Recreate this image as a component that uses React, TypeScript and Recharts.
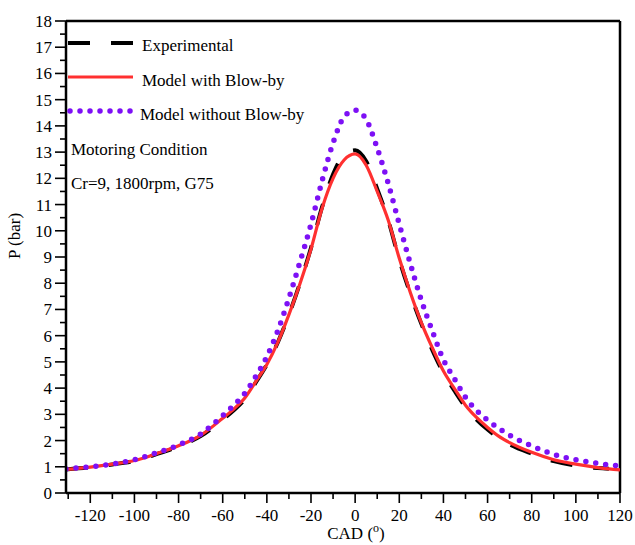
import React from 'react';
import { LineChart, Line, XAxis, YAxis, ReferenceLine } from 'recharts';

const cad = [-131, -120, -110, -100, -90, -80, -70, -60, -55, -50, -45, -40, -35, -30, -25, -20, -15, -10, -5, 0, 5, 10, 15, 20, 25, 30, 35, 40, 45, 50, 55, 60, 65, 70, 80, 90, 100, 110, 115, 120];
const experimental = [0.9, 0.98, 1.09, 1.22, 1.48, 1.78, 2.17, 2.8, 3.15, 3.58, 4.22, 4.9, 5.75, 6.8, 8.0, 9.35, 10.9, 12.15, 12.9, 13.07, 12.65, 11.6, 10.4, 8.9, 7.6, 6.45, 5.45, 4.58, 3.9, 3.28, 2.8, 2.42, 2.1, 1.85, 1.5, 1.22, 1.05, 0.95, 0.92, null];
const withBlowBy = [0.9, 0.99, 1.1, 1.24, 1.5, 1.8, 2.2, 2.85, 3.2, 3.62, 4.25, 4.9, 5.75, 6.8, 7.98, 9.3, 10.85, 12.0, 12.7, 12.93, 12.5, 11.5, 10.4, 8.95, 7.65, 6.5, 5.53, 4.65, 3.98, 3.35, 2.88, 2.5, 2.17, 1.92, 1.55, 1.27, 1.1, 0.97, 0.92, 0.88];
const withoutBlowBy = [0.92, 1.0, 1.1, 1.27, 1.53, 1.83, 2.25, 2.95, 3.35, 3.8, 4.45, 5.2, 6.2, 7.43, 8.81, 10.25, 11.9, 13.35, 14.35, 14.6, 14.25, 13.15, 11.8, 10.25, 8.75, 7.35, 6.17, 5.08, 4.35, 3.65, 3.15, 2.78, 2.47, 2.2, 1.8, 1.47, 1.27, 1.13, 1.07, 1.03];

const xTicks = [-130, -120, -110, -100, -90, -80, -70, -60, -50, -40, -30, -20, -10, 0, 10, 20, 30, 40, 50, 60, 70, 80, 90, 100, 110, 120];
const yTicks = Array.from({ length: 37 }, (_, i) => i / 2);
const xDomain = [-131, 120];
const yDomain = [0, 18];

const seriesNames = ['Experimental', 'Model with Blow-by', 'Model without Blow-by'];
const noteLines = ['Motoring Condition', 'Cr=9, 1800rpm, G75'];

const data = cad.map((x, i) => ({
  cad: x,
  exp: experimental[i],
  wb: withBlowBy[i],
  wob: withoutBlowBy[i],
}));

const FONT = '"Liberation Serif", "Times New Roman", serif';
const PURPLE = '#7d10f5';
const RED = '#ff3030';
const FS = 17;

const XTick = (props: any) => {
  const { x, y, payload } = props;
  const v = payload.value;
  const major = v % 20 === 0;
  return (
    <g>
      <line x1={x} x2={x} y1={y} y2={y + (major ? 10 : 6)} stroke="#000" strokeWidth={1.6} />
      {major && (
        <text x={x} y={y + 28} textAnchor="middle" fontSize={FS} fontFamily={FONT} fill="#000">
          {v}
        </text>
      )}
    </g>
  );
};

const YTick = (props: any) => {
  const { x, y, payload } = props;
  const v = payload.value;
  const major = Number.isInteger(v);
  return (
    <g>
      <line x1={x} x2={x - (major ? 11 : 6)} y1={y} y2={y} stroke="#000" strokeWidth={1.6} />
      {major && (
        <text x={x - 14} y={y + 6} textAnchor="end" fontSize={FS} fontFamily={FONT} fill="#000">
          {v}
        </text>
      )}
    </g>
  );
};

export default function App() {
  return (
    <div style={{ position: 'absolute', left: 0, top: 0, width: 635, height: 545, background: '#fff' }}>
      <LineChart width={635} height={545} data={data} margin={{ top: 21, right: 15, bottom: 0, left: 0 }}>
        <XAxis
          dataKey="cad"
          type="number"
          domain={xDomain}
          allowDataOverflow
          ticks={xTicks}
          interval={0}
          tickSize={0}
          tickMargin={0}
          tickLine={false}
          tick={<XTick />}
          height={52}
          axisLine={{ stroke: '#000', strokeWidth: 2.5 }}
        />
        <YAxis
          type="number"
          domain={yDomain}
          allowDataOverflow
          ticks={yTicks}
          interval={0}
          tickSize={0}
          tickMargin={0}
          tickLine={false}
          tick={<YTick />}
          width={66}
          axisLine={{ stroke: '#000', strokeWidth: 2.5 }}
        />
        <ReferenceLine y={yDomain[1]} stroke="#000" strokeWidth={2.5} ifOverflow="visible" />
        <ReferenceLine x={xDomain[1]} stroke="#000" strokeWidth={2.5} ifOverflow="visible" />
        <Line
          dataKey="exp"
          type="monotone"
          stroke="#000"
          strokeWidth={4}
          strokeDasharray="22 21"
          dot={false}
          isAnimationActive={false}
        />
        <Line
          dataKey="wb"
          type="monotone"
          stroke={RED}
          strokeWidth={3.2}
          dot={false}
          isAnimationActive={false}
        />
        <Line
          dataKey="wob"
          type="monotone"
          stroke={PURPLE}
          strokeWidth={5.5}
          strokeDasharray="0 10"
          strokeLinecap="round"
          dot={false}
          isAnimationActive={false}
        />
      </LineChart>
      <svg
        width={635}
        height={545}
        style={{ position: 'absolute', left: 0, top: 0, pointerEvents: 'none' }}
        fontFamily={FONT}
      >
        <line x1={68} x2={133} y1={43} y2={43} stroke="#000" strokeWidth={4} strokeDasharray="22 21" />
        <line x1={68} x2={133} y1={77} y2={77} stroke={RED} strokeWidth={3.2} />
        <line x1={70} x2={132} y1={111} y2={111} stroke={PURPLE} strokeWidth={5.5} strokeDasharray="0 10" strokeLinecap="round" />
        <text x={142} y={51} fontSize={FS} fill="#000">{seriesNames[0]}</text>
        <text x={142} y={86} fontSize={FS} fill="#000">{seriesNames[1]}</text>
        <text x={140} y={120} fontSize={FS} fill="#000">{seriesNames[2]}</text>
        <text x={71} y={155} fontSize={FS} fill="#000">{noteLines[0]}</text>
        <text x={71} y={189} fontSize={FS} fill="#000">{noteLines[1]}</text>
        <text x={20} y={236} fontSize={FS} fill="#000" textAnchor="middle" transform="rotate(-90 20 236)">
          P (bar)
        </text>
        <text x={356} y={539} fontSize={FS} fill="#000" textAnchor="middle">
          CAD (<tspan fontSize={12} dy={-7}>o</tspan><tspan dy={7}>)</tspan>
        </text>
      </svg>
    </div>
  );
}
